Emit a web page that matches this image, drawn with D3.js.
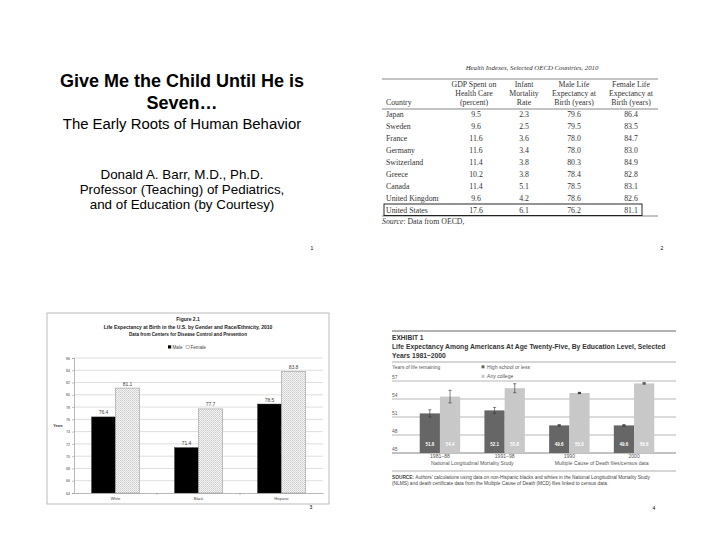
<!DOCTYPE html>
<html>
<head>
<meta charset="utf-8">
<script src="https://cdn.jsdelivr.net/npm/d3@7"></script>
<style>
  body { margin: 0; background: #fff; }
  svg { display: block; }
</style>
</head>
<body>
<svg id="page" width="720" height="557"></svg>
<script>
// ---- slide 2 table data
const oecdCountries = ['Japan', 'Sweden', 'France', 'Germany', 'Switzerland', 'Greece', 'Canada', 'United Kingdom', 'United States'];
const gdpPct = [9.5, 9.6, 11.6, 11.6, 11.4, 10.2, 11.4, 9.6, 17.6];
const infantMort = [2.3, 2.5, 3.6, 3.4, 3.8, 3.8, 5.1, 4.2, 6.1];
const maleLife = [79.6, 79.5, 78.0, 78.0, 80.3, 78.4, 78.5, 78.6, 76.2];
const femaleLife = [86.4, 83.5, 84.7, 83.0, 84.9, 82.8, 83.1, 82.6, 81.1];

// ---- slide 3 chart data
const raceGroups = ['White', 'Black', 'Hispanic'];
const maleLE = [76.4, 71.4, 78.5];
const femaleLE = [81.1, 77.7, 83.8];
const fig21Ticks = [64, 66, 68, 70, 72, 74, 76, 78, 80, 82, 84, 86];

// ---- slide 4 chart data
const eduPeriods = ['1981–88', '1991–98', '1990', '2000'];
const hsLE = [51.6, 52.1, 49.6, 49.6];
const collegeLE = [54.4, 55.8, 55.0, 56.6];
const hsErr = [0.6, 0.5, 0.1, 0.1];
const collegeErr = [1.05, 0.75, 0.1, 0.1];
const exhibitTicks = [45, 48, 51, 54, 57];

const svg = d3.select('#page');
const sans = 'Liberation Sans, Arial, sans-serif';
const serif = 'Liberation Serif, Times New Roman, serif';

function lines(g, arr, x, y0, dy, attrs) {
    arr.forEach((t, i) => {
        const el = g.append('text').attr('x', x).attr('y', y0 + i * dy).text(t);
        Object.entries(attrs).forEach(([k, v]) => el.attr(k, v));
    });
}

// ================= Slide 1 =================
const s1 = svg.append('g').attr('font-family', sans).attr('fill', '#000').attr('text-anchor', 'middle');
s1.append('text').attr('x', 182).attr('y', 87).attr('font-size', 18).attr('font-weight', 'bold').text('Give Me the Child Until He is');
s1.append('text').attr('x', 182).attr('y', 109).attr('font-size', 18).attr('font-weight', 'bold').text('Seven…');
s1.append('text').attr('x', 182).attr('y', 128.5).attr('font-size', 14.9).text('The Early Roots of Human Behavior');
lines(s1, ['Donald A. Barr, M.D., Ph.D.', 'Professor (Teaching) of Pediatrics,', 'and of Education (by Courtesy)'],
    182, 178.5, 15.3, { 'font-size': 13.4 });
s1.append('text').attr('x', 312).attr('y', 250).attr('font-size', 5).text('1');

// ================= Slide 2 (table) =================
const s2 = svg.append('g').attr('font-family', serif).attr('fill', '#333');
s2.append('text').attr('x', 532).attr('y', 69.5).attr('text-anchor', 'middle')
    .attr('font-size', 6.8).attr('font-style', 'italic').text('Health Indexes, Selected OECD Countries, 2010');

const colX = [474, 524, 574, 631];
const headers = [
    ['GDP Spent on', 'Health Care', '(percent)'],
    ['Infant', 'Mortality', 'Rate'],
    ['Male Life', 'Expectancy at', 'Birth (years)'],
    ['Female Life', 'Expectancy at', 'Birth (years)']
];
[79, 109, 216].forEach(y => {
    s2.append('line').attr('x1', 382).attr('x2', 658).attr('y1', y).attr('y2', y)
        .attr('stroke', '#888').attr('stroke-width', 1.1);
});
headers.forEach((h, i) => lines(s2, h, colX[i], 86.8, 9, { 'text-anchor': 'middle', 'font-size': 7.8 }));
s2.append('text').attr('x', 386).attr('y', 104.8).attr('font-size', 7.8).text('Country');

const rowY = d3.scalePoint().domain(oecdCountries).range([114, 210]);
const cols = [gdpPct, infantMort, maleLife, femaleLife];
oecdCountries.forEach((c, i) => {
    const y = rowY(c) + 2.8;
    s2.append('text').attr('x', 386).attr('y', y).attr('font-size', 7.8).text(c);
    cols.forEach((col, j) => {
        s2.append('text').attr('x', colX[j] + (j === 0 ? 2 : 0)).attr('y', y).attr('text-anchor', 'middle')
            .attr('font-size', 7.8).text(col[i].toFixed(1));
    });
});
s2.append('rect').attr('x', 384).attr('y', rowY('United States') - 6).attr('width', 258).attr('height', 11.5)
    .attr('fill', 'none').attr('stroke', '#111').attr('stroke-width', 0.9);
const src = s2.append('text').attr('x', 382).attr('y', 224).attr('font-size', 7.8);
src.append('tspan').attr('font-style', 'italic').text('Source');
src.append('tspan').text(': Data from OECD,');
svg.append('text').attr('x', 662).attr('y', 250).attr('font-family', sans).attr('font-size', 5)
    .attr('text-anchor', 'middle').text('2');

// ================= Slide 3 (grouped bar) =================
const s3 = svg.append('g').attr('font-family', sans);
const defs = svg.append('defs');
const pat = defs.append('pattern').attr('id', 'dots').attr('patternUnits', 'userSpaceOnUse')
    .attr('width', 2).attr('height', 2);
pat.append('rect').attr('width', 2).attr('height', 2).attr('fill', '#f4f4f4');
pat.append('rect').attr('width', 0.8).attr('height', 0.8).attr('fill', '#b8b8b8');
pat.append('rect').attr('x', 1).attr('y', 1).attr('width', 0.8).attr('height', 0.8).attr('fill', '#c8c8c8');

s3.append('rect').attr('x', 47).attr('y', 313).attr('width', 282).attr('height', 191)
    .attr('fill', '#fff').attr('stroke', '#aaa').attr('stroke-width', 0.8);
const t3 = s3.append('g').attr('text-anchor', 'middle').attr('font-weight', 'bold').attr('fill', '#222');
t3.append('text').attr('x', 188).attr('y', 321).attr('font-size', 5).text('Figure 2.1');
t3.append('text').attr('x', 188).attr('y', 328.5).attr('font-size', 5).text('Life Expectancy at Birth in the U.S. by Gender and Race/Ethnicity, 2010');
t3.append('text').attr('x', 188).attr('y', 335.5).attr('font-size', 4.6).text('Data from Centers for Disease Control and Prevention');

// legend
s3.append('rect').attr('x', 168).attr('y', 345.3).attr('width', 3.2).attr('height', 3.2).attr('fill', '#000');
s3.append('text').attr('x', 172.5).attr('y', 348.6).attr('font-size', 4.6).attr('fill', '#444').text('Male');
s3.append('rect').attr('x', 186).attr('y', 345.3).attr('width', 3.2).attr('height', 3.2).attr('fill', '#fff')
    .attr('stroke', '#777').attr('stroke-width', 0.4);
s3.append('text').attr('x', 190.5).attr('y', 348.6).attr('font-size', 4.6).attr('fill', '#444').text('Female');

const x3 = d3.scaleBand().domain(raceGroups).range([74, 323]);
const x3in = d3.scaleBand().domain(['m', 'f']).range([0, x3.bandwidth()]).paddingOuter(0.73).paddingInner(0);
const y3 = d3.scaleLinear().domain([64, 86]).range([493, 358]);

s3.append('g').selectAll('line').data(fig21Ticks.slice(1)).join('line')
    .attr('x1', 74).attr('x2', 323).attr('y1', d => y3(d)).attr('y2', d => y3(d))
    .attr('stroke', '#c8c8c8').attr('stroke-width', 0.6);

const yAx3 = s3.append('g').attr('transform', 'translate(74,0)')
    .call(d3.axisLeft(y3).tickValues(fig21Ticks).tickSize(2).tickFormat(d3.format('d')));
yAx3.select('.domain').attr('stroke', '#888').attr('stroke-width', 0.6);
yAx3.selectAll('.tick line').attr('stroke', '#888').attr('stroke-width', 0.5);
yAx3.selectAll('.tick text').attr('font-size', 3.6).attr('fill', '#444').attr('font-family', sans).attr('x', -4);
s3.append('text').attr('x', 58).attr('y', 426.5).attr('font-size', 3.6).attr('font-weight', 'bold')
    .attr('fill', '#333').attr('text-anchor', 'middle').text('Years');

const groups3 = s3.append('g').selectAll('g').data(raceGroups).join('g')
    .attr('transform', d => `translate(${x3(d)},0)`);
groups3.append('rect').attr('x', x3in('m')).attr('width', x3in.bandwidth())
    .attr('y', (d, i) => y3(maleLE[i])).attr('height', (d, i) => y3(64) - y3(maleLE[i]))
    .attr('fill', '#000').attr('stroke', '#333').attr('stroke-width', 0.4);
groups3.append('rect').attr('x', x3in('f')).attr('width', x3in.bandwidth())
    .attr('y', (d, i) => y3(femaleLE[i])).attr('height', (d, i) => y3(64) - y3(femaleLE[i]))
    .attr('fill', 'url(#dots)').attr('stroke', '#999').attr('stroke-width', 0.6);
groups3.append('text').attr('x', x3in('m') + x3in.bandwidth() / 2).attr('y', (d, i) => y3(maleLE[i]) - 2.5)
    .attr('text-anchor', 'middle').attr('font-size', 5).attr('fill', '#444').text((d, i) => maleLE[i].toFixed(1));
groups3.append('text').attr('x', x3in('f') + x3in.bandwidth() / 2).attr('y', (d, i) => y3(femaleLE[i]) - 2.5)
    .attr('text-anchor', 'middle').attr('font-size', 5).attr('fill', '#444').text((d, i) => femaleLE[i].toFixed(1));

const xAx3 = s3.append('g').attr('transform', 'translate(0,493)')
    .call(d3.axisBottom(x3).tickSize(0).tickPadding(4));
xAx3.select('.domain').attr('stroke', '#888').attr('stroke-width', 0.6);
xAx3.selectAll('.tick text').attr('font-size', 3.8).attr('fill', '#444').attr('font-family', sans);
s3.append('g').selectAll('line').data(raceGroups.slice(1)).join('line')
    .attr('x1', d => x3(d)).attr('x2', d => x3(d)).attr('y1', 493).attr('y2', 495)
    .attr('stroke', '#888').attr('stroke-width', 0.5);
s3.append('text').attr('x', 311).attr('y', 509).attr('font-size', 5).attr('text-anchor', 'middle').text('3');

// ================= Slide 4 (exhibit) =================
const s4 = svg.append('g').attr('font-family', sans);
const L4 = 392, R4 = 676;
s4.append('line').attr('x1', L4).attr('x2', R4).attr('y1', 331).attr('y2', 331).attr('stroke', '#555').attr('stroke-width', 0.9);
s4.append('text').attr('x', L4).attr('y', 339.5).attr('font-size', 6.6).attr('font-weight', 'bold').attr('fill', '#333').text('EXHIBIT 1');
s4.append('text').attr('x', L4).attr('y', 348.5).attr('font-size', 6.75).attr('font-weight', 'bold').attr('fill', '#333')
    .text('Life Expectancy Among Americans At Age Twenty-Five, By Education Level, Selected');
s4.append('text').attr('x', L4).attr('y', 357.5).attr('font-size', 6.75).attr('font-weight', 'bold').attr('fill', '#333')
    .text('Years 1981–2000');
s4.append('line').attr('x1', L4).attr('x2', R4).attr('y1', 362).attr('y2', 362).attr('stroke', '#777').attr('stroke-width', 0.6);
s4.append('text').attr('x', L4).attr('y', 369).attr('font-size', 4.9).attr('fill', '#555').text('Years of life remaining');

// legend
s4.append('rect').attr('x', 481.5).attr('y', 365.3).attr('width', 3).attr('height', 3).attr('fill', '#666');
s4.append('text').attr('x', 487).attr('y', 368.8).attr('font-size', 5.1).attr('fill', '#555').text('High school or less');
s4.append('rect').attr('x', 481.5).attr('y', 374.8).attr('width', 3).attr('height', 3).attr('fill', '#c8c8c8');
s4.append('text').attr('x', 487).attr('y', 378.3).attr('font-size', 5.1).attr('fill', '#555').text('Any college');

const y4 = d3.scaleLinear().domain([45, 57]).range([453, 381]);
const x4 = d3.scaleBand().domain(eduPeriods).range([407.6, 666.4]);
const x4in = d3.scaleBand().domain(['hs', 'col']).range([0, x4.bandwidth()]).paddingOuter(0.6).paddingInner(0);

s4.append('g').selectAll('line').data(exhibitTicks).join('line')
    .attr('x1', L4).attr('x2', R4).attr('y1', d => y4(d)).attr('y2', d => y4(d))
    .attr('stroke', d => d === 45 ? '#777' : '#888').attr('stroke-width', d => d === 45 ? 0.9 : 0.6);
s4.append('g').selectAll('text').data(exhibitTicks).join('text')
    .attr('x', L4).attr('y', d => y4(d) - 2.2).attr('font-size', 4.9).attr('fill', '#555').text(d => d);

const groups4 = s4.append('g').selectAll('g').data(eduPeriods).join('g')
    .attr('transform', d => `translate(${x4(d)},0)`);
const bw4 = x4in.bandwidth();
groups4.append('rect').attr('x', x4in('hs')).attr('width', bw4)
    .attr('y', (d, i) => y4(hsLE[i])).attr('height', (d, i) => y4(45) - y4(hsLE[i])).attr('fill', '#666');
groups4.append('rect').attr('x', x4in('col')).attr('width', bw4)
    .attr('y', (d, i) => y4(collegeLE[i])).attr('height', (d, i) => y4(45) - y4(collegeLE[i])).attr('fill', '#c8c8c8');

function errBar(g, key, vals, errs) {
    const cx = x4in(key) + bw4 / 2;
    g.append('line').attr('x1', cx).attr('x2', cx)
        .attr('y1', (d, i) => y4(vals[i] + errs[i])).attr('y2', (d, i) => y4(vals[i] - errs[i]))
        .attr('stroke', '#333').attr('stroke-width', 0.6);
    [1, -1].forEach(s => {
        g.append('line').attr('x1', cx - 1.6).attr('x2', cx + 1.6)
            .attr('y1', (d, i) => y4(vals[i] + s * errs[i])).attr('y2', (d, i) => y4(vals[i] + s * errs[i]))
            .attr('stroke', '#333').attr('stroke-width', (d, i) => errs[i] < 0.2 ? 1 : 0.6);
    });
}
errBar(groups4, 'hs', hsLE, hsErr);
errBar(groups4, 'col', collegeLE, collegeErr);

groups4.append('text').attr('x', x4in('hs') + bw4 / 2).attr('y', 446).attr('text-anchor', 'middle')
    .attr('font-size', 4.5).attr('font-weight', 'bold').attr('fill', '#fff').text((d, i) => hsLE[i].toFixed(1));
groups4.append('text').attr('x', x4in('col') + bw4 / 2).attr('y', 446).attr('text-anchor', 'middle')
    .attr('font-size', 4.5).attr('font-weight', 'bold').attr('fill', '#fff').text((d, i) => collegeLE[i].toFixed(1));

const xAx4 = s4.append('g').attr('transform', 'translate(0,453)')
    .call(d3.axisBottom(x4).tickSize(0).tickPadding(1.5));
xAx4.select('.domain').remove();
xAx4.selectAll('.tick text').attr('font-size', 5.1).attr('fill', '#555').attr('font-family', sans);

s4.append('text').attr('x', (x4(eduPeriods[0]) + x4(eduPeriods[1]) + x4.bandwidth()) / 2).attr('y', 465.3)
    .attr('text-anchor', 'middle').attr('font-size', 5.1).attr('fill', '#555').text('National Longitudinal Mortality Study');
s4.append('text').attr('x', (x4(eduPeriods[2]) + x4(eduPeriods[3]) + x4.bandwidth()) / 2).attr('y', 465.3)
    .attr('text-anchor', 'middle').attr('font-size', 5.1).attr('fill', '#555').text('Multiple Cause of Death files/census data');
s4.append('line').attr('x1', L4).attr('x2', R4).attr('y1', 471).attr('y2', 471).attr('stroke', '#777').attr('stroke-width', 0.6);

const srcT = s4.append('text').attr('x', L4).attr('y', 478.8).attr('font-size', 4.8).attr('fill', '#444');
srcT.append('tspan').attr('font-weight', 'bold').text('SOURCE:');
srcT.append('tspan').text(' Authors’ calculations using data on non-Hispanic blacks and whites in the National Longitudinal Mortality Study');
s4.append('text').attr('x', L4).attr('y', 484.8).attr('font-size', 4.8).attr('fill', '#444')
    .text('(NLMS) and death certificate data from the Multiple Cause of Death (MCD) files linked to census data.');
s4.append('text').attr('x', 654).attr('y', 510).attr('font-size', 5).attr('text-anchor', 'middle').text('4');
</script>
</body>
</html>
